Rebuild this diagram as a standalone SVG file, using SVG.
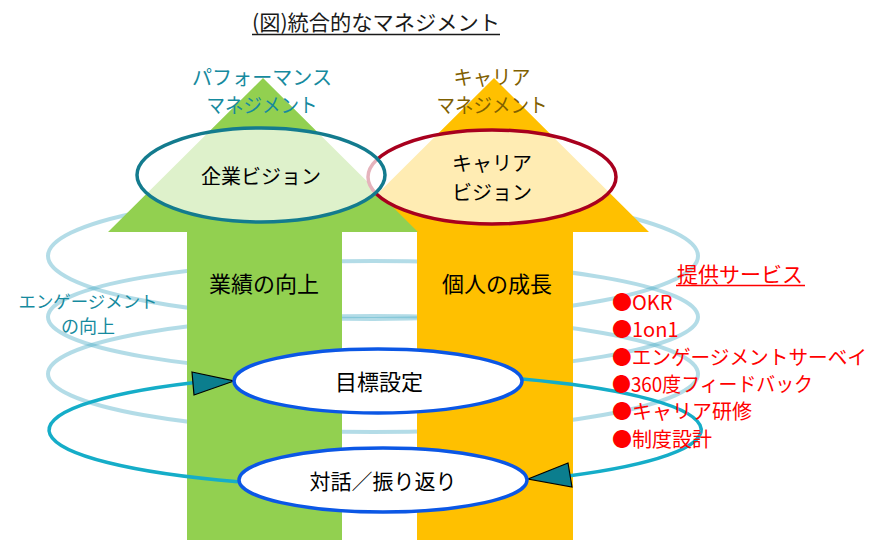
<svg xmlns="http://www.w3.org/2000/svg" width="882" height="540" viewBox="0 0 882 540">
<style>
text{font-family:"Noto Sans CJK JP","Liberation Sans",sans-serif}
.ring{fill:none;stroke:#4BACC6;stroke-opacity:0.42;stroke-width:4}
.vis{fill:#FFFFFF;fill-opacity:0.7;stroke-width:3.5}
.blk{fill:#000000}
.cyc{fill:none;stroke:#15ADC8;stroke-width:3.5}
.head{fill:#0B7E8E;stroke:#000000;stroke-width:1.2;stroke-linejoin:miter}
.step{fill:#FFFFFF;stroke:#0B57E5;stroke-width:3.5}
.svc{fill:#FF0000;font-size:20px}
</style>
<rect width="882" height="540" fill="#FFFFFF"/>

<g id="engagement-rings">
<ellipse class="ring" cx="373" cy="256" rx="325" ry="63"/>
<ellipse class="ring" cx="373" cy="317" rx="325" ry="56"/>
<ellipse class="ring" cx="373" cy="374" rx="325" ry="58"/>
</g>

<g id="career-arrow">
<polygon points="494,78 649,232 573,232 573,540 417,540 417,232 339,232" fill="#FFC000"/>
</g>
<g id="performance-arrow">
<polygon points="263,78 418,232 342,232 342,540 187,540 187,232 108,232" fill="#92D050"/>
</g>

<g id="career-vision">
<ellipse class="vis" cx="492" cy="177" rx="124" ry="47" stroke="#A8001E"/>
<text class="blk" x="492" y="170.6" font-size="20" text-anchor="middle">キャリア</text>
<text class="blk" x="492" y="199.6" font-size="20" text-anchor="middle">ビジョン</text>
</g>
<g id="corporate-vision">
<ellipse class="vis" cx="261" cy="175" rx="124" ry="47" stroke="#137B8E"/>
<text class="blk" x="261" y="183.6" font-size="20" text-anchor="middle">企業ビジョン</text>
</g>

<g id="labels">
<text x="262" y="85" font-size="20" fill="#168A9E" text-anchor="middle" textLength="140" lengthAdjust="spacingAndGlyphs">パフォーマンス</text>
<text x="262" y="112.5" font-size="20" fill="#168A9E" text-anchor="middle" textLength="111" lengthAdjust="spacingAndGlyphs">マネジメント</text>
<text x="492" y="85" font-size="20" fill="#7F6000" text-anchor="middle" textLength="77" lengthAdjust="spacingAndGlyphs">キャリア</text>
<text x="492" y="112.5" font-size="20" fill="#7F6000" text-anchor="middle" textLength="111" lengthAdjust="spacingAndGlyphs">マネジメント</text>
<text class="blk" x="264" y="292.4" font-size="22" text-anchor="middle">業績の向上</text>
<text class="blk" x="497" y="292.4" font-size="22" text-anchor="middle">個人の成長</text>
<text x="88" y="307.5" font-size="17" fill="#168A9E" text-anchor="middle" textLength="139" lengthAdjust="spacingAndGlyphs">エンゲージメント</text>
<text x="88" y="332.5" font-size="18" fill="#168A9E" text-anchor="middle">の向上</text>
</g>

<g id="connectors">
<path class="cyc" d="M193,382.7 A326,57 0 0 0 238,481.7"/>
<path class="cyc" d="M522,379.1 A326,57 0 0 1 570,475.7"/>
<polygon class="head" points="192,372 234,381 194,395"/>
<polygon class="head" points="568,463 528,479 572,487"/>
</g>

<g id="goal-setting">
<ellipse class="step" cx="378" cy="381" rx="144" ry="32"/>
<text class="blk" x="379" y="390.4" font-size="22" text-anchor="middle">目標設定</text>
</g>
<g id="dialogue">
<ellipse class="step" cx="383" cy="480" rx="144" ry="32"/>
<text class="blk" x="383" y="488.6" font-size="21" text-anchor="middle" textLength="147" lengthAdjust="spacingAndGlyphs">対話／振り返り</text>
</g>

<g id="services">
<text x="740" y="282" font-size="21" fill="#FF0000" text-anchor="middle">提供サービス</text>
<line x1="676" y1="285.5" x2="805" y2="285.5" stroke="#FF0000" stroke-width="1.5"/>
<text class="svc" x="612" y="310">●OKR</text>
<text class="svc" x="612" y="337.3">●1on1</text>
<text class="svc" x="612" y="364.6" textLength="255" lengthAdjust="spacingAndGlyphs">●エンゲージメントサーベイ</text>
<text class="svc" x="612" y="391.9" textLength="201" lengthAdjust="spacingAndGlyphs">●360度フィードバック</text>
<text class="svc" x="612" y="419.2">●キャリア研修</text>
<text class="svc" x="612" y="446.5">●制度設計</text>
</g>

<g id="title">
<text x="376" y="30" font-size="21" fill="#1A1A1A" text-anchor="middle" textLength="248" lengthAdjust="spacingAndGlyphs">(図)統合的なマネジメント</text>
<line x1="252" y1="34.5" x2="500" y2="34.5" stroke="#1A1A1A" stroke-width="1.5"/>
</g>
</svg>
